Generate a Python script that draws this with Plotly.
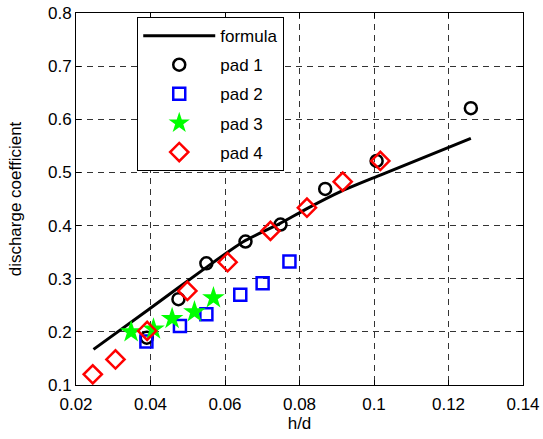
import plotly.graph_objects as go

# formula curve
formula_x = [0.0247, 0.0395, 0.0547, 0.065, 0.0748, 0.082, 0.091, 0.1017, 0.126]
formula_y = [0.167, 0.242, 0.320, 0.370, 0.404, 0.432, 0.464, 0.495, 0.564]

pad1_x = [0.039, 0.0475, 0.055, 0.0655, 0.0749, 0.0869, 0.1007, 0.126]
pad1_y = [0.189, 0.2615, 0.329, 0.370, 0.402, 0.469, 0.5216, 0.621]

pad2_x = [0.0389, 0.0479, 0.055, 0.0641, 0.0701, 0.0773]
pad2_y = [0.182, 0.211, 0.233, 0.270, 0.2917, 0.3326]

pad3_x = [0.0348, 0.0408, 0.0458, 0.0518, 0.0569]
pad3_y = [0.200, 0.205, 0.225, 0.2376, 0.264]

pad4_x = [0.0245, 0.0306, 0.0391, 0.0499, 0.0607, 0.0722, 0.082, 0.0916, 0.1017]
pad4_y = [0.120, 0.148, 0.2018, 0.277, 0.331, 0.390, 0.4336, 0.4826, 0.5216]

x_ticks = [0.02, 0.04, 0.06, 0.08, 0.1, 0.12, 0.14]
x_ticklabels = ["0.02", "0.04", "0.06", "0.08", "0.1", "0.12", "0.14"]
y_ticks = [0.1, 0.2, 0.3, 0.4, 0.5, 0.6, 0.7, 0.8]
y_ticklabels = ["0.1", "0.2", "0.3", "0.4", "0.5", "0.6", "0.7", "0.8"]

fig = go.Figure()
fig.add_trace(go.Scatter(x=formula_x, y=formula_y, mode="lines", name="formula",
                         line=dict(color="black", width=3, shape="spline", smoothing=0.6),
                         legendgroup="a"))
fig.add_trace(go.Scatter(x=pad1_x, y=pad1_y, mode="markers", name="pad 1",
                         marker=dict(symbol="circle-open", size=12, color="black",
                                     line=dict(width=2.5, color="black")),
                         legendgroup="b"))
fig.add_trace(go.Scatter(x=pad2_x, y=pad2_y, mode="markers", name="pad 2",
                         marker=dict(symbol="square-open", size=12, color="blue",
                                     line=dict(width=2.5, color="blue")),
                         legendgroup="c"))
fig.add_trace(go.Scatter(x=pad3_x, y=pad3_y, mode="markers", name="pad 3",
                         marker=dict(symbol="star", size=17, color="#00ff00",
                                     line=dict(width=0)),
                         legendgroup="d"))
fig.add_trace(go.Scatter(x=pad4_x, y=pad4_y, mode="markers", name="pad 4",
                         marker=dict(symbol="diamond-open", size=14, color="red",
                                     line=dict(width=2.5, color="red")),
                         legendgroup="e"))

axis_common = dict(
    showline=True, linecolor="black", linewidth=1, mirror="ticks",
    ticks="inside", ticklen=5, tickcolor="black",
    showgrid=True, gridcolor="#333333", gridwidth=1, griddash="6px,5px",
    zeroline=False, tickfont=dict(size=17, color="black"), automargin=False,
)

fig.update_xaxes(range=[0.02, 0.14], tickvals=x_ticks, ticktext=x_ticklabels,
                 ticklabelstandoff=4,
                 title=dict(text="h/d", font=dict(size=17, color="black"), standoff=2),
                 **axis_common)
fig.update_yaxes(range=[0.1, 0.8], tickvals=y_ticks, ticktext=y_ticklabels,
                 title=dict(text="discharge coefficient", font=dict(size=17, color="black"), standoff=22),
                 **axis_common)

fig.update_layout(
    width=543, height=439,
    margin=dict(l=76, r=20, t=13, b=54, autoexpand=False),
    paper_bgcolor="white", plot_bgcolor="white",
    font=dict(family="Liberation Sans, Arial, sans-serif", size=17, color="black"),
    legend=dict(x=0.137, y=0.989, xanchor="left", yanchor="top",
                bgcolor="white", bordercolor="black", borderwidth=1,
                font=dict(size=17), tracegroupgap=4, itemwidth=72,
                entrywidth=160, entrywidthmode="pixels"),
)

fig.write_html("out.html", config={"displayModeBar": False},
               post_script="document.body.style.margin='0';document.body.style.padding='0';")
